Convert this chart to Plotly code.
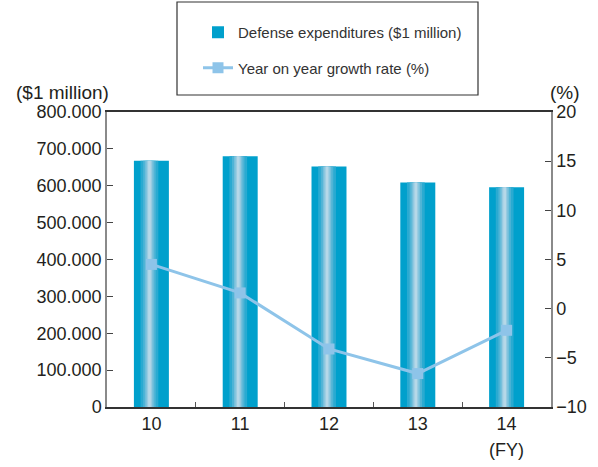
import plotly.graph_objects as go

years = ['10', '11', '12', '13', '14']
expenditures = [668000, 680000, 652000, 609000, 596000]
growth = [4.5, 1.6, -4.1, -6.6, -2.2]

left_tickvals = [0, 100000, 200000, 300000, 400000, 500000, 600000, 700000, 800000]
left_ticktext = ['0', '100.000', '200.000', '300.000', '400.000', '500.000',
                 '600.000', '700.000', '800.000']
right_tickvals = [-10, -5, 0, 5, 10, 15, 20]

BAR_W = 0.394
HL_C = -0.022  # highlight centre relative to category centre
# gradient layers (width, colour)
layers = [(0.20, '#2aaad1'), (0.14, '#4fb4d6'), (0.095, '#76c0dc'),
          (0.06, '#98cbe1'), (0.03, '#b6d8e8')]

TXT = '#231f20'
FONT = 'Liberation Sans, Arial, sans-serif'

fig = go.Figure()

fig.add_trace(go.Bar(
    x=years, y=expenditures, width=BAR_W, offset=-BAR_W / 2,
    marker=dict(color='#00a0cc', line=dict(width=0)),
    name='Defense expenditures ($1 million)', legendgroup='a',
    yaxis='y'))
for w, c in layers:
    fig.add_trace(go.Bar(
        x=years, y=expenditures, width=w, offset=HL_C - w / 2,
        marker=dict(color=c, line=dict(width=0)),
        showlegend=False, hoverinfo='skip', yaxis='y'))

fig.add_trace(go.Scatter(
    x=years, y=growth, mode='lines+markers', yaxis='y2',
    line=dict(color='#8ec4e9', width=3),
    marker=dict(symbol='square', size=11, color='#8ec4e9'),
    name='Year on year growth rate (%)', legendgroup='b'))

fig.update_layout(
    width=598, height=467,
    margin=dict(l=107, r=47, t=112, b=60, autoexpand=False),
    paper_bgcolor='white', plot_bgcolor='white',
    barmode='overlay',
    font=dict(family=FONT, size=18, color=TXT),
    showlegend=True,
    legend=dict(
        x=198 / 598, y=1 - 16 / 467, xanchor='left', yanchor='top',
        xref='container', yref='container',
        font=dict(family=FONT, size=15, color='#333333'),
        bgcolor='rgba(0,0,0,0)', borderwidth=0,
        tracegroupgap=13, traceorder='grouped', itemwidth=30),
    xaxis=dict(
        type='category', range=[-0.5, 4.5],
        showline=True, linecolor='#333333', linewidth=1.5, mirror=True,
        ticks='inside', tickson='boundaries', ticklen=5, tickcolor='#555555',
        showgrid=False, zeroline=False,
        tickfont=dict(size=18, color=TXT)),
    yaxis=dict(
        range=[0, 800000], tickvals=left_tickvals, ticktext=left_ticktext,
        showline=True, linecolor='#8a8a8a', linewidth=1.5,
        ticks='inside', ticklen=6, tickcolor='#444444',
        showgrid=False, zeroline=False,
        tickfont=dict(size=18, color=TXT)),
    yaxis2=dict(
        range=[-10, 20], tickvals=right_tickvals,
        overlaying='y', side='right',
        showline=True, linecolor='#8a8a8a', linewidth=1.5,
        ticks='inside', ticklen=6, tickcolor='#444444',
        showgrid=False, zeroline=False,
        tickfont=dict(size=18, color=TXT)),
    shapes=[dict(type='rect', xref='paper', yref='paper',
                 x0=(177 - 107) / 444, x1=(478 - 107) / 444,
                 y0=(407 - 95) / 295, y1=(407 - 2) / 295,
                 line=dict(color='#333333', width=1.2), fillcolor='rgba(0,0,0,0)')],
    annotations=[
        dict(text='($1 million)', x=0, y=1.0, xref='paper', yref='paper',
             xanchor='right', yanchor='bottom', xshift=4, yshift=7,
             showarrow=False, font=dict(size=19, color=TXT)),
        dict(text='(%)', x=1, y=1.0, xref='paper', yref='paper',
             xanchor='left', yanchor='bottom', xshift=-3, yshift=7,
             showarrow=False, font=dict(size=19, color=TXT)),
        dict(text='(FY)', x=4, y=0, xref='x', yref='paper',
             xanchor='center', yanchor='top', yshift=-31,
             showarrow=False, font=dict(size=18, color=TXT)),
    ],
)

fig.write_html('out.html', config={'displayModeBar': False},
               post_script="document.body.style.margin='0';")
